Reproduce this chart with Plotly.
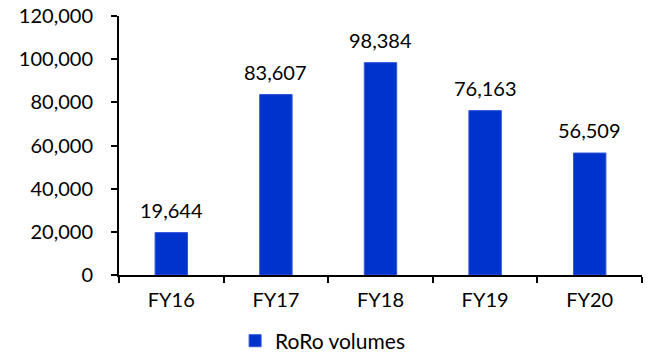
import plotly.graph_objects as go

# RoRo volumes by fiscal year
years = ["FY16", "FY17", "FY18", "FY19", "FY20"]
volumes = [19644, 83607, 98384, 76163, 56509]
series_name = "RoRo volumes"
y_ticks = [0, 20000, 40000, 60000, 80000, 100000, 120000]

bar_color = "#0033CC"
font_family = "Lato, 'Open Sans', sans-serif"

fig = go.Figure(
    go.Bar(
        x=years,
        y=volumes,
        name=series_name,
        marker=dict(color=bar_color, line=dict(color="#3355DD", width=1)),
        showlegend=True,
    )
)

# value labels above each bar
for yr, v in zip(years, volumes):
    fig.add_annotation(
        x=yr,
        y=v,
        text=f"{v:,}",
        showarrow=False,
        yanchor="bottom",
        yshift=9,
        font=dict(size=20, color="#000000", family=font_family),
    )

fig.update_layout(
    width=652,
    height=356,
    margin=dict(l=119, r=10, t=16, b=81, autoexpand=False),
    paper_bgcolor="white",
    plot_bgcolor="white",
    font=dict(family=font_family, size=20, color="#000000"),
    bargap=0.69,
    showlegend=True,
    legend=dict(
        orientation="h",
        x=0.222,
        xanchor="left",
        y=-0.255,
        yanchor="middle",
        font=dict(size=21),
        itemwidth=30,
    ),
)

fig.update_xaxes(
    type="category",
    showline=True,
    linecolor="#000000",
    linewidth=2,
    ticks="outside",
    tickson="boundaries",
    ticklen=6,
    tickwidth=2,
    tickcolor="#000000",
    ticklabelstandoff=6,
    showgrid=False,
    zeroline=False,
)

fig.update_yaxes(
    range=[0, 120000],
    tickvals=y_ticks,
    ticktext=[f"{t:,}" for t in y_ticks],
    showline=True,
    linecolor="#000000",
    linewidth=2,
    ticks="outside",
    ticklen=6,
    tickwidth=2,
    tickcolor="#000000",
    ticklabelstandoff=14,
    showgrid=False,
    zeroline=False,
)

fig.write_html("out.html")
